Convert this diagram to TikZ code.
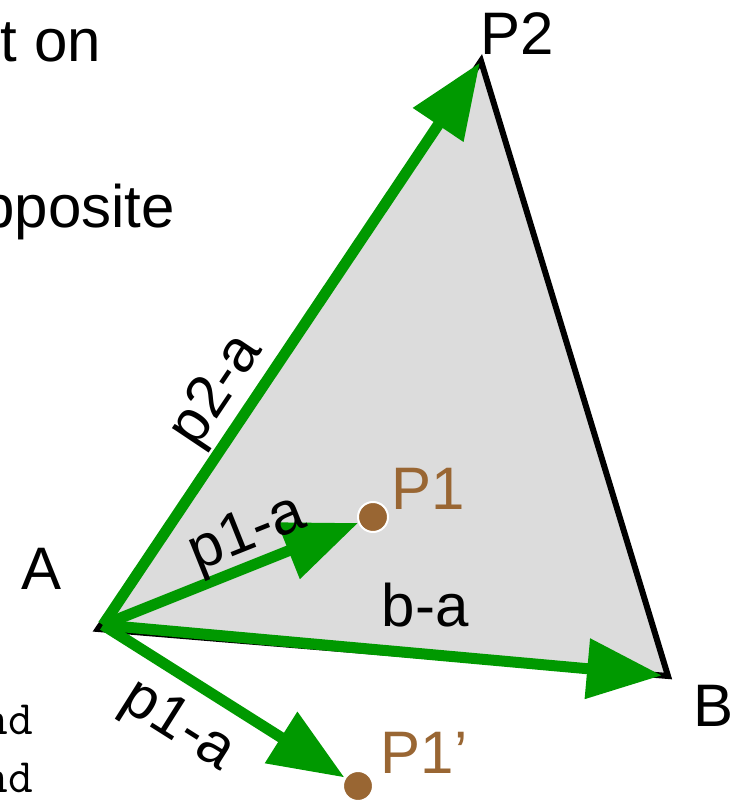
\documentclass[tikz,border=0pt]{standalone}
\usepackage{fontspec}
\setmainfont{Liberation Sans}
\usetikzlibrary{arrows.meta}
\definecolor{vgreen}{RGB}{0,153,0}
\definecolor{tribg}{RGB}{220,220,220}
\definecolor{ptbrown}{RGB}{153,102,51}
\tikzset{
  big/.style={font=\fontsize{60}{72}\selectfont,inner sep=0pt},
  mono/.style={font=\ttfamily\fontsize{48}{56}\selectfont,inner sep=0pt},
  vec/.style={draw=vgreen,line width=11pt,-{Triangle[length=75pt,width=58pt]}},
  pt/.style={circle,fill=ptbrown,draw=white,line width=2pt,minimum size=30pt,inner sep=0pt}
}
\begin{document}
\begin{tikzpicture}[x=1pt,y=1pt]
\useasboundingbox (0,0) rectangle (742,801);
\clip (0,0) rectangle (742,801);
\coordinate (A) at (98,172);
\coordinate (Ao) at (103,176);
\coordinate (B) at (668,125);
\coordinate (P2) at (481,740);
\draw[fill=tribg,line width=6pt] (A)--(B)--(P2)--cycle;
\node[pt] (P1) at (373,284) {};
\node[pt] (P1b) at (358,15) {};
% cut-off text at the left edge
\node[big,anchor=base east] (ton) at (101,739) {t on};
\node[big,anchor=base east] (opp) at (175,573) {pposite};
\node[mono,anchor=base east] (nd1) at (33,66) {nd};
\node[mono,anchor=base east] (nd2) at (33,9) {nd};
% vectors from A
\draw[vec,shorten >=2pt] (Ao) -- (P2) node[big,sloped,pos=.38,above=2pt] (lp2) {p2-a};
\draw[vec] (Ao) -- (P1) node[big,sloped,pos=.61,above=-3pt] (lp1) {p1-a};
\draw[vec,shorten >=6pt] (Ao) -- (B) node[big,pos=.57,above=21pt] (lba) {b-a};
\draw[vec] (Ao) -- (P1b) node[big,sloped,pos=.41,below=14pt] (lp1b) {p1-a};
\node[big] (la) at (42,232) {A};
\node[big] (lP2) at (517,767) {P2};
\node[big] (lb) at (714,95) {B};
\node[big,text=ptbrown] (lP1) at (428,312) {P1};
\node[big,text=ptbrown] (lP1b) at (424,48) {P1’};
\end{tikzpicture}
\end{document}
